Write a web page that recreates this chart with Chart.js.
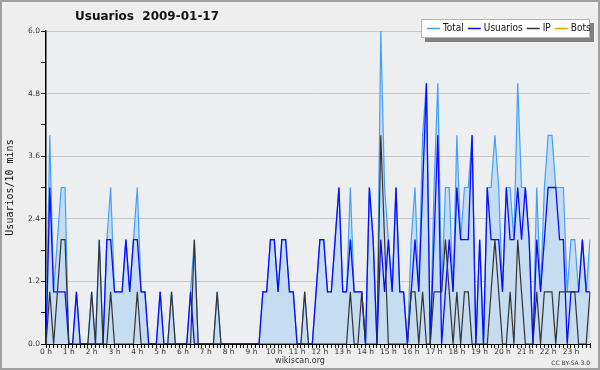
<!DOCTYPE html>
<html>
<head>
<meta charset="utf-8">
<title>Usuarios 2009-01-17</title>
<script src="https://cdn.jsdelivr.net/npm/chart.js@4.4.1/dist/chart.umd.min.js"></script>
<style>
  html, body { margin: 0; padding: 0; background: #eeeeee; }
  #wrap { width: 600px; height: 370px; }
</style>
</head>
<body>
<div id="wrap"><canvas id="usuariosChart" width="600" height="370"></canvas></div>
<script>
// 每10分钟一个点, 0:00 - 23:50, 共144个
const usuarios = [
  0,3,1,1,1,1,0,0,1,0,0,0,
  0,0,0,0,2,2,1,1,1,2,1,2,
  2,1,1,0,0,0,1,0,0,0,0,0,
  0,0,1,0,0,0,0,0,0,0,0,0,
  0,0,0,0,0,0,0,0,0,1,1,2,
  2,1,2,2,1,1,0,0,0,0,0,1,
  2,2,1,1,2,3,1,1,2,1,1,1,
  0,3,2,0,2,1,2,1,3,1,1,0,
  1,2,1,3,5,0,2,4,0,1,2,1,
  3,2,2,2,4,0,2,0,3,2,2,2,
  1,3,2,2,3,2,3,2,0,2,1,2,
  3,3,3,2,2,0,1,1,1,2,1,1
];
const ip = [
  0,1,0,1,2,2,0,0,0,0,0,0,
  1,0,2,0,0,1,0,0,0,0,0,0,
  1,0,0,0,0,0,0,0,0,1,0,0,
  0,0,0,2,0,0,0,0,0,1,0,0,
  0,0,0,0,0,0,0,0,0,0,0,0,
  0,0,0,0,0,0,0,0,1,0,0,0,
  0,0,0,0,0,0,0,0,1,0,0,1,
  0,0,0,0,4,2,0,0,0,0,0,0,
  1,1,0,1,0,0,1,1,1,2,1,0,
  1,0,1,1,0,0,0,0,0,1,2,1,
  0,0,1,0,2,1,0,0,0,1,0,1,
  1,1,0,1,1,1,1,1,0,0,0,1
];
const total = [
  0,4,1,2,3,3,0,0,1,0,0,0,
  1,0,2,0,2,3,1,1,1,2,1,2,
  3,1,1,0,0,0,1,0,0,1,0,0,
  0,0,1,2,0,0,0,0,0,1,0,0,
  0,0,0,0,0,0,0,0,0,1,1,2,
  2,1,2,2,1,1,0,0,1,0,0,1,
  2,2,1,1,2,3,1,1,3,1,1,1,
  0,3,2,0,6,3,2,1,3,1,1,0,
  2,3,1,4,5,0,3,5,1,3,3,1,
  4,2,3,3,4,0,2,0,3,3,4,3,
  1,3,3,2,5,3,3,2,0,3,1,3,
  4,4,3,3,3,1,2,2,1,2,1,2
];
const bots = [
  0,0,0,0,0,0,0,0,0,0,0,0,
  0,0,0,0,0,0,0,0,0,0,0,0,
  0,0,0,0,0,0,0,0,0,0,0,0,
  0,0,0,0,0,0,0,0,0,0,0,0,
  0,0,0,0,0,0,0,0,0,0,0,0,
  0,0,0,0,0,0,0,0,0,0,0,0,
  0,0,0,0,0,0,0,0,0,0,0,0,
  0,0,0,0,0,0,0,0,0,0,0,0,
  0,0,0,0,0,0,0,0,0,0,0,0,
  0,0,0,0,0,0,0,0,0,0,0,0,
  0,0,0,0,0,0,0,0,0,0,0,0,
  0,0,0,0,0,0,0,0,0,0,0,0
];

const hourLabels = ['0 h','1 h','2 h','3 h','4 h','5 h','6 h','7 h','8 h','9 h','10 h','11 h',
  '12 h','13 h','14 h','15 h','16 h','17 h','18 h','19 h','20 h','21 h','22 h','23 h'];
const yTicks = [0, 0.6, 1.2, 1.8, 2.4, 3.0, 3.6, 4.2, 4.8, 5.4, 6.0];
const yLabelled = [0, 1.2, 2.4, 3.6, 4.8, 6.0];

// 时间段 (类别)
const slots = [];
for (let h = 0; h < 24; h++) {
  for (let m = 0; m < 60; m += 10) slots.push(h + ':' + String(m).padStart(2, '0'));
}

const isMajor = v => yLabelled.some(l => Math.abs(l - v) < 1e-6);

// 背景, 标题, 图例, 页脚
const decor = {
  id: 'decor',
  beforeDraw(chart) {
    const {ctx, chartArea: a} = chart;
    ctx.save();
    ctx.fillStyle = '#eeeeee';
    ctx.fillRect(0, 0, chart.width, chart.height);
    ctx.fillStyle = '#eceef0';
    ctx.fillRect(a.left, a.top, a.right - a.left, a.bottom - a.top);
    ctx.restore();
  },
  afterDraw(chart) {
    const ctx = chart.ctx;
    ctx.save();
    ctx.textBaseline = 'middle';

    ctx.fillStyle = '#111';
    ctx.font = 'bold 12px "DejaVu Sans"';
    ctx.fillText('Usuarios  2009-01-17', 75, 17);

    const lx = 421, ly = 19, lw = 169, lh = 19;
    ctx.fillStyle = '#808080';
    ctx.fillRect(lx + 4, ly + 4, lw, lh);
    ctx.fillStyle = '#ffffff';
    ctx.fillRect(lx, ly, lw, lh);
    ctx.strokeStyle = '#b4b4b4';
    ctx.lineWidth = 1;
    ctx.strokeRect(lx + 0.5, ly + 0.5, lw - 1, lh - 1);
    ctx.font = '10px "DejaVu Sans Condensed", "DejaVu Sans"';
    let x = lx + 6;
    const yMid = ly + lh / 2;
    chart.data.datasets.forEach(ds => {
      ctx.strokeStyle = ds.borderColor;
      ctx.lineWidth = 1.5;
      ctx.beginPath();
      ctx.moveTo(x, yMid);
      ctx.lineTo(x + 13, yMid);
      ctx.stroke();
      x += 16;
      ctx.fillStyle = '#111';
      ctx.fillText(ds.label, x, yMid);
      x += ctx.measureText(ds.label).width + 4;
    });

    ctx.fillStyle = '#333';
    ctx.font = '8px "DejaVu Sans"';
    ctx.textAlign = 'center';
    ctx.fillText('wikiscan.org', 300, 361);
    ctx.font = '6px "DejaVu Sans"';
    ctx.textAlign = 'right';
    ctx.fillText('CC BY-SA 3.0', 590, 363);

    ctx.strokeStyle = '#a0a0a0';
    ctx.lineWidth = 2;
    ctx.strokeRect(1, 1, chart.width - 2, chart.height - 2);
    ctx.restore();
  }
};

new Chart(document.getElementById('usuariosChart').getContext('2d'), {
  type: 'line',
  data: {
    labels: slots,
    datasets: [
      { label: 'Total', data: total, borderColor: '#40a0ff', backgroundColor: '#c6dcf0',
        fill: 'origin', borderWidth: 1.2, order: 3 },
      { label: 'Usuarios', data: usuarios, borderColor: '#0a0aff', borderWidth: 1.3, fill: false, order: 2 },
      { label: 'IP', data: ip, borderColor: '#333333', borderWidth: 1.2, fill: false, order: 1 },
      { label: 'Bots', data: bots, borderColor: '#ff9a00', borderWidth: 1.2, fill: false, order: 4 }
    ]
  },
  options: {
    responsive: false,
    devicePixelRatio: 1,
    animation: false,
    layout: { padding: { top: 31, right: 10, bottom: 0, left: 0 } },
    elements: { point: { radius: 0 }, line: { tension: 0 } },
    plugins: { legend: { display: false }, title: { display: false }, tooltip: { enabled: false } },
    scales: {
      x: {
        z: 1,
        afterFit: s => { s.height = 26; },
        grid: { drawOnChartArea: false, tickColor: '#000', tickLength: 4, tickWidth: 1 },
        border: { color: '#000', width: 2 },
        ticks: {
          autoSkip: false, maxRotation: 0, minRotation: 0, padding: 0,
          color: '#333', font: { family: 'DejaVu Sans', size: 7.5 },
          callback: (value, index) => index % 6 === 0 ? hourLabels[index / 6] : ''
        }
      },
      y: {
        min: 0, max: 6,
        afterFit: s => { s.width = 46; },
        afterBuildTicks: s => { s.ticks = yTicks.map(v => ({ value: v })); },
        grid: {
          color: ctx => (ctx.tick && isMajor(ctx.tick.value)) ? '#c8c8c8' : 'rgba(0,0,0,0)',
          tickColor: '#000', tickLength: 5, lineWidth: 1
        },
        border: { color: '#000', width: 1.5 },
        ticks: {
          padding: 1, color: '#333', font: { family: 'DejaVu Sans', size: 7.5 },
          callback: value => isMajor(value) ? value.toFixed(1) : ''
        },
        title: {
          display: true, text: 'Usuarios/10 mins', color: '#111',
          font: { family: 'DejaVu Sans Mono', size: 10 }, padding: { top: 4, bottom: 0 }
        }
      }
    }
  },
  plugins: [decor]
});
</script>
</body>
</html>
